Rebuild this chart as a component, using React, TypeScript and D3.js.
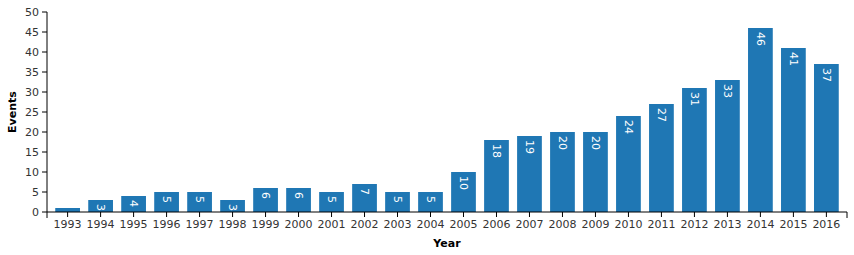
import React from "react";
import * as d3 from "d3";

const years = ["1993","1994","1995","1996","1997","1998","1999","2000","2001","2002","2003","2004","2005","2006","2007","2008","2009","2010","2011","2012","2013","2014","2015","2016"];
const events = [1,3,4,5,5,3,6,6,5,7,5,5,10,18,19,20,20,24,27,31,33,46,41,37];
const yTicks = [0,5,10,15,20,25,30,35,40,45,50];

const W = 854, H = 255;
const left = 47, right = 847, top = 12, bottom = 212;
const font = "DejaVu Sans, sans-serif";

export default function App() {
  const x = d3.scaleBand<string>().domain(years).range([left, right]).paddingInner(0.25).paddingOuter(0.25);
  const y = d3.scaleLinear().domain([0, 50]).range([bottom, top]);
  return (
    <svg width={W} height={H} style={{ position: "absolute", left: 0, top: 0 }} fontFamily={font}>
      {years.map((yr, i) => (
        <rect key={yr} x={x(yr)} y={y(events[i])} width={x.bandwidth()} height={bottom - y(events[i])} fill="#1f77b4" />
      ))}
      {years.map((yr, i) => events[i] > 1 ? (
        <text key={"l" + yr} transform={`translate(${(x(yr) as number) + x.bandwidth() / 2},${y(events[i]) + 4}) rotate(90)`}
          fill="#fff" fontSize={11} dominantBaseline="central" textAnchor="start">{events[i]}</text>
      ) : null)}
      {/* y axis */}
      <line x1={left} x2={left} y1={top} y2={bottom} stroke="#000" />
      {yTicks.map(t => (
        <g key={"y" + t}>
          <line x1={left - 5} x2={left} y1={y(t)} y2={y(t)} stroke="#000" />
          <text x={left - 8} y={y(t)} dy="0.35em" textAnchor="end" fontSize={11} fill="#333">{t}</text>
        </g>
      ))}
      {/* x axis */}
      <path d={`M${left},${bottom + 6}V${bottom}H${right}V${bottom + 6}`} stroke="#000" fill="none" />
      {years.map(yr => {
        const cx = (x(yr) as number) + x.bandwidth() / 2;
        return (
          <g key={"x" + yr}>
            <line x1={cx} x2={cx} y1={bottom} y2={bottom + 5} stroke="#000" />
            <text x={cx} y={bottom + 8} dy="0.71em" textAnchor="middle" fontSize={11} fill="#333">{yr}</text>
          </g>
        );
      })}
      <text transform={`translate(16,${(top + bottom) / 2}) rotate(-90)`} textAnchor="middle" fontSize={11} fontWeight="bold" fill="#000">Events</text>
      <text x={(left + right) / 2} y={247} textAnchor="middle" fontSize={11} fontWeight="bold" fill="#000">Year</text>
    </svg>
  );
}
